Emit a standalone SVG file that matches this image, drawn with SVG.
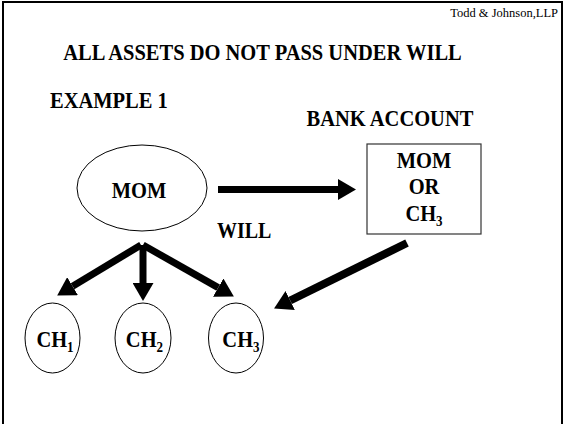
<svg xmlns="http://www.w3.org/2000/svg" width="564" height="424" viewBox="0 0 564 424">
<style>
text{font-family:"Liberation Serif","Times New Roman",serif;font-weight:bold;fill:#000}
.h{font-size:20.5px}
.n{font-size:20.5px;text-anchor:middle}
.sub{font-size:13px}
.shape{fill:#fff;stroke:#000;stroke-width:1}
.box{fill:#fff;stroke:#333;stroke-width:1.2}
.arr{stroke:#000;stroke-width:7;fill:none;marker-end:url(#ah)}
</style>
<defs>
<marker id="ah" markerUnits="userSpaceOnUse" markerWidth="18" markerHeight="21" viewBox="0 0 18 21" refX="0" refY="10.5" orient="auto">
<path d="M0,0 L18,10.5 L0,21 Z" fill="#000"/>
</marker>
</defs>
<rect x="3" y="2" width="559" height="440" fill="#fff" stroke="#000" stroke-width="2"/>
<text x="558" y="17" style="font-size:12.5px;font-weight:normal;text-anchor:end">Todd &amp; Johnson,LLP</text>
<text class="n" x="262.5" y="0" transform="translate(0,60) scale(1,1.13)">ALL ASSETS DO NOT PASS UNDER WILL</text>
<text class="h" x="50" y="0" transform="translate(0,108) scale(1,1.13)">EXAMPLE 1</text>
<text class="n" x="390" y="0" transform="translate(0,126) scale(1,1.13)">BANK ACCOUNT</text>
<text class="h" x="217" y="0" transform="translate(0,238) scale(1,1.13)" style="font-size:20px">WILL</text>
<g id="connectors">
<line class="arr" x1="218" y1="189.5" x2="338" y2="189.5"/>
<line class="arr" x1="141" y1="245" x2="72.6" y2="286.2"/>
<line class="arr" x1="143" y1="245" x2="143" y2="283"/>
<line class="arr" x1="143" y1="245" x2="218.2" y2="287.6"/>
<line class="arr" x1="407" y1="243" x2="290.2" y2="300.5" style="stroke-width:8"/>
</g>
<g id="mom">
<ellipse class="shape" cx="142" cy="188" rx="65" ry="43"/>
<text class="n" x="139" y="0" transform="translate(0,198) scale(1,1.13)">MOM</text>
</g>
<g id="bank">
<rect class="box" x="367" y="144" width="114" height="90"/>
<text class="n" x="424" y="0" transform="translate(0,168) scale(1,1.13)">MOM</text>
<text class="n" x="424" y="0" transform="translate(0,194) scale(1,1.13)">OR</text>
<text class="n" x="424" y="0" transform="translate(0,221) scale(1,1.13)">CH<tspan class="sub" dy="4">3</tspan></text>
</g>
<g id="ch1">
<ellipse class="shape" cx="52.5" cy="338" rx="27.5" ry="35"/>
<text class="n" x="55" y="0" transform="translate(0,347) scale(1,1.13)">CH<tspan class="sub" dy="4">1</tspan></text>
</g>
<g id="ch2">
<ellipse class="shape" cx="143" cy="338" rx="28" ry="35"/>
<text class="n" x="144.5" y="0" transform="translate(0,347) scale(1,1.13)">CH<tspan class="sub" dy="4">2</tspan></text>
</g>
<g id="ch3">
<ellipse class="shape" cx="236" cy="338" rx="27.5" ry="35"/>
<text class="n" x="241" y="0" transform="translate(0,347) scale(1,1.13)">CH<tspan class="sub" dy="4">3</tspan></text>
</g>
</svg>
